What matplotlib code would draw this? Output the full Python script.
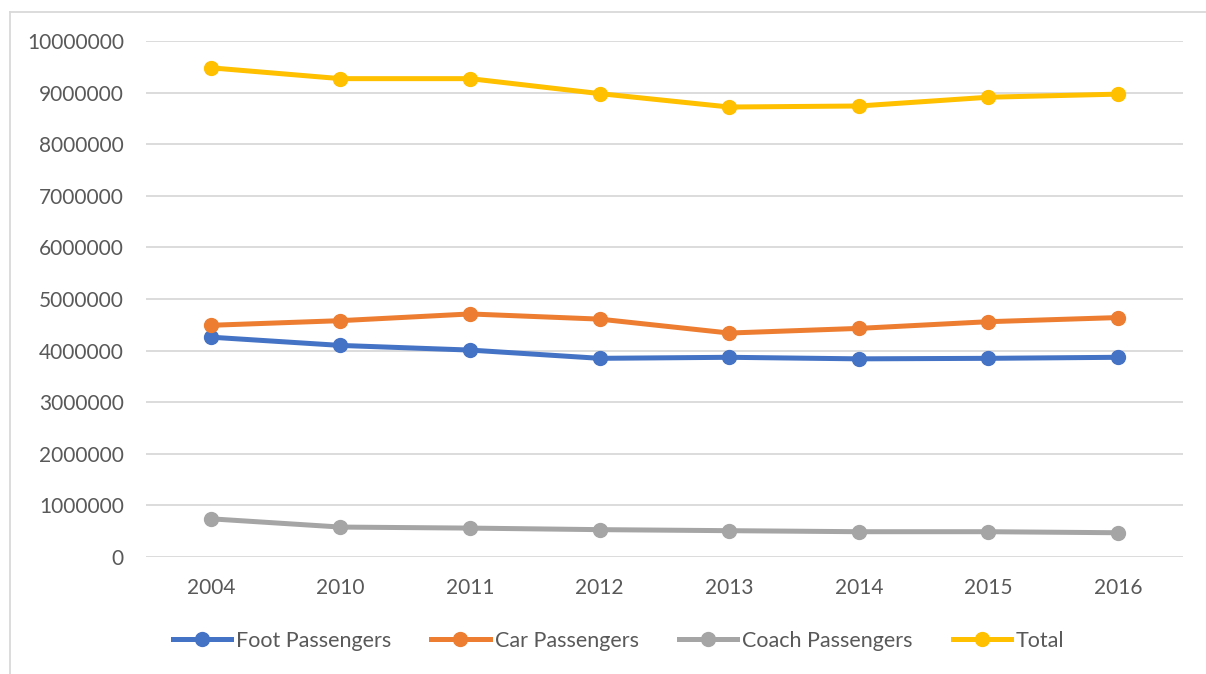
import numpy as np
import matplotlib
matplotlib.use('Agg')
import matplotlib.pyplot as plt
from matplotlib.lines import Line2D

years = ['2004', '2010', '2011', '2012', '2013', '2014', '2015', '2016']
foot = [4260000, 4100000, 4010000, 3850000, 3870000, 3840000, 3850000, 3870000]
car = [4490000, 4580000, 4710000, 4610000, 4340000, 4430000, 4560000, 4640000]
coach = [740000, 580000, 560000, 530000, 510000, 490000, 490000, 470000]
total = [9480000, 9270000, 9270000, 8980000, 8720000, 8740000, 8910000, 8970000]

names = ['Foot Passengers', 'Car Passengers', 'Coach Passengers', 'Total']
colors = ['#4472C4', '#ED7D31', '#A5A5A5', '#FFC000']

plt.rcParams['font.family'] = ['Lato', 'DejaVu Sans']

fig = plt.figure(figsize=(12.06, 6.74), dpi=100)
ax = fig.add_axes([0.1211, 0.1736, 0.8596, 0.7656])

x = np.arange(len(years))
for vals, name, c in zip([foot, car, coach, total], names, colors):
    ax.plot(x, vals, color=c, lw=3.6, marker='o', ms=10,
            solid_capstyle='round', label=name, zorder=3)

ax.set_xlim(-0.5, len(years) - 0.5)
ax.set_ylim(0, 10000000)
ax.yaxis.set_major_locator(plt.MultipleLocator(1000000))
ax.yaxis.set_major_formatter(plt.FuncFormatter(lambda v, p: '%d' % v))
ax.set_xticks(x)
ax.set_xticklabels(years)
ax.grid(axis='y', color='#D9D9D9', lw=1.3)
ax.set_axisbelow(True)
for s in ax.spines.values():
    s.set_visible(False)
ax.tick_params(length=0, labelsize=15, labelcolor='#595959')
ax.tick_params(axis='y', pad=16)
ax.tick_params(axis='x', pad=15)

handles = [Line2D([0], [0], color=c, lw=3.6, marker='o', ms=10) for c in colors]
fig.legend(handles, names, loc='center', bbox_to_anchor=(0.513, 0.049),
           ncol=4, frameon=False, fontsize=15.5, labelcolor='#595959',
           handlelength=2.7, handletextpad=0.25, columnspacing=1.85)

# chart area border
fig.add_artist(Line2D([10 / 1206, 10 / 1206], [0, 1 - 12 / 674],
                      transform=fig.transFigure, color='#D9D9D9', lw=1.3))
fig.add_artist(Line2D([10 / 1206, 1], [1 - 12 / 674, 1 - 12 / 674],
                      transform=fig.transFigure, color='#D9D9D9', lw=1.3))

fig.savefig('out.png', dpi=100)
